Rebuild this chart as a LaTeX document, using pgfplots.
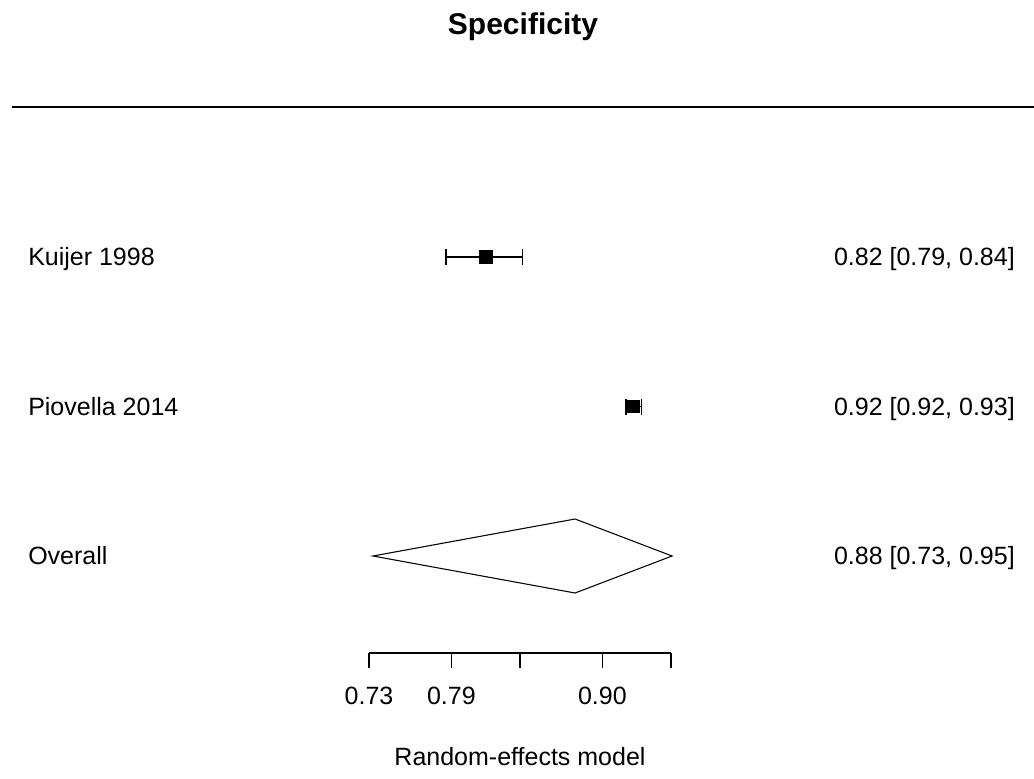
\documentclass[border=0pt]{standalone}
\usepackage{pgfplots}
\usepackage{pgfplotstable}
\pgfplotsset{compat=1.18}
\usepackage{fontspec}
\setmainfont{Liberation Sans}

\pgfplotstableread{
x y ep em
0.8154 3 0.0263 0.0292
}\kuijer
\pgfplotstableread{
x y ep em
0.9226 2 0.0064 0.0050
}\piovella

\newcommand{\lbl}{\fontsize{18.75}{22}\selectfont}

\begin{document}
\begin{tikzpicture}
\useasboundingbox (0,0) rectangle (775.5pt,583.5pt);
\begin{axis}[
  name=main, at={(0,0)}, anchor=south west,
  width=775.5pt, height=583.5pt, scale only axis,
  xmin=0.460657, xmax=1.215402, ymin=-0.4849, ymax=4.7191,
  hide axis, clip=false,
]
% separator line
\addplot[black, line width=0.8pt] coordinates {(0.4694,4.0033) (1.2154,4.0033)};
% studies
\addplot[black, line width=0.8pt, mark=square*, mark size=4.7pt, mark options={solid, fill=black},
  error bars/.cd, x dir=both, x explicit,
  error mark options={rotate=90, mark size=6pt, line width=0.8pt},
  error bar style={line width=0.8pt}]
  table[x=x, y=y, x error plus=ep, x error minus=em] {\kuijer};
\addplot[black, line width=0.8pt, mark=square*, mark size=4.6pt, mark options={solid, fill=black},
  error bars/.cd, x dir=both, x explicit,
  error mark options={rotate=90, mark size=6pt, line width=0.8pt},
  error bar style={line width=0.8pt}]
  table[x=x, y=y, x error plus=ep, x error minus=em] {\piovella};
% overall diamond
\addplot[black, line width=0.8pt, fill=white] coordinates {(0.7329,1) (0.8804,1.2475) (0.9512,1) (0.8804,0.7525)} -- cycle;
% text
\node[anchor=base, inner sep=0pt, font=\fontsize{22.5}{26}\selectfont\bfseries] at (axis cs:0.8424,4.485) {Specificity};
\node[anchor=base west, inner sep=0pt, font=\lbl, yshift=-6.7pt] at (axis cs:0.481095,3) {Kuijer 1998};
\node[anchor=base west, inner sep=0pt, font=\lbl, yshift=-6.7pt] at (axis cs:0.481095,2) {Piovella 2014};
\node[anchor=base west, inner sep=0pt, font=\lbl, yshift=-6.7pt] at (axis cs:0.481095,1) {Overall};
\node[anchor=base east, inner sep=0pt, font=\lbl, yshift=-6.7pt] at (axis cs:1.201533,3) {0.82 [0.79, 0.84]};
\node[anchor=base east, inner sep=0pt, font=\lbl, yshift=-6.7pt] at (axis cs:1.201533,2) {0.92 [0.92, 0.93]};
\node[anchor=base east, inner sep=0pt, font=\lbl, yshift=-6.7pt] at (axis cs:1.201533,1) {0.88 [0.73, 0.95]};
\end{axis}
\begin{axis}[
  at={(276.75pt,93.75pt)}, anchor=south west,
  width=226.5pt, height=10pt, scale only axis,
  xmin=0.73, xmax=0.95, ymin=0, ymax=1,
  axis x line=bottom, axis y line=none,
  axis line style={line width=0.8pt, -},
  xtick={0.73,0.79,0.84,0.90,0.95},
  xticklabels={0.73,0.79,,0.90,},
  tick align=outside, major tick length=11.25pt,
  tick style={line width=0.8pt, black},
  xticklabel style={font=\lbl, anchor=base, yshift=-27.5pt},
  xlabel={Random-effects model},
  xlabel style={font=\lbl, at={(axis description cs:0.5,0)}, anchor=base, yshift=-84pt},
]
\addplot[draw=none] coordinates {(0.73,0.5)};
\end{axis}
\end{tikzpicture}
\end{document}
